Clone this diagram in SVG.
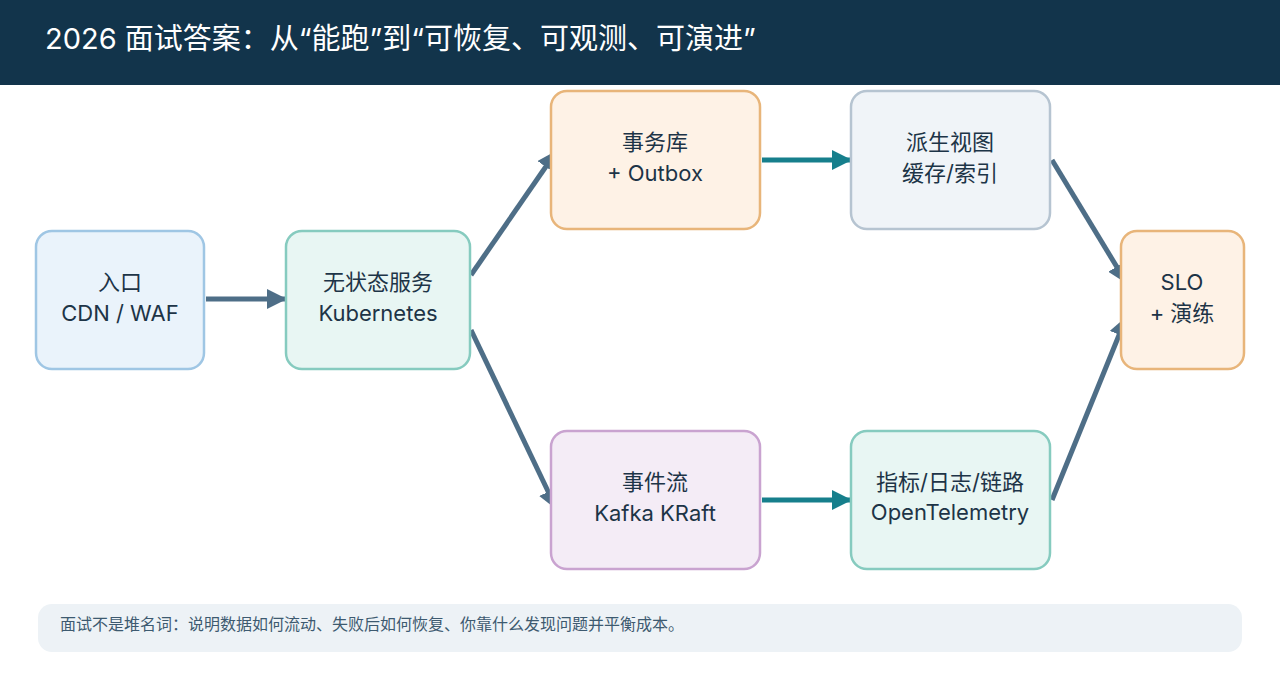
<svg xmlns="http://www.w3.org/2000/svg" width="1280" height="680" viewBox="0 0 1280 680">
<style>
.t{font-family:Inter,"Noto Sans CJK SC",sans-serif;fill:#1d3447;font-size:22px;text-anchor:middle}
.n{stroke-width:2.5}
.c{fill:none;stroke-width:5}
</style>
<defs>
<marker id="ag" viewBox="0 0 10 10" refX="9" refY="5" markerWidth="4" markerHeight="4" orient="auto" markerUnits="strokeWidth"><path d="M0,0L10,5L0,10z" fill="#4e6e87"/></marker>
<marker id="at" viewBox="0 0 10 10" refX="9" refY="5" markerWidth="4" markerHeight="4" orient="auto" markerUnits="strokeWidth"><path d="M0,0L10,5L0,10z" fill="#167f8c"/></marker>
</defs>
<rect width="1280" height="680" fill="#fff"/>
<rect width="1280" height="85" fill="#12344b"/>
<text x="45" y="49" font-family="Inter,Noto Sans CJK SC,sans-serif" font-size="29" fill="#fff">2026 面试答案：从“能跑”到“可恢复、可观测、可演进”</text>
<g id="connectors">
<path class="c" stroke="#4e6e87" d="M206,299L285,299" marker-end="url(#ag)"/>
<path class="c" stroke="#4e6e87" d="M471,275L556,152" marker-end="url(#ag)"/>
<path class="c" stroke="#4e6e87" d="M471,330L556,508" marker-end="url(#ag)"/>
<path class="c" stroke="#167f8c" d="M762,160L850,160" marker-end="url(#at)"/>
<path class="c" stroke="#167f8c" d="M762,500L850,500" marker-end="url(#at)"/>
<path class="c" stroke="#4e6e87" d="M1052,160L1126,282" marker-end="url(#ag)"/>
<path class="c" stroke="#4e6e87" d="M1052,500L1126,318" marker-end="url(#ag)"/>
</g>
<g id="n1"><rect class="n" x="36" y="231" width="168" height="138" rx="16" fill="#eaf3fb" stroke="#9fc6e4"/><text class="t" x="120" y="290">入口</text><text class="t" x="120" y="321">CDN / WAF</text></g>
<g id="n2"><rect class="n" x="286" y="231" width="184" height="138" rx="16" fill="#e8f6f3" stroke="#86cbbf"/><text class="t" x="378" y="290">无状态服务</text><text class="t" x="378" y="321">Kubernetes</text></g>
<g id="n3"><rect class="n" x="551" y="91" width="209" height="138" rx="16" fill="#fef2e6" stroke="#e8b57a"/><text class="t" x="655" y="150">事务库</text><text class="t" x="655" y="181">+ Outbox</text></g>
<g id="n4"><rect class="n" x="851" y="91" width="199" height="138" rx="16" fill="#f0f4f8" stroke="#b6c4d1"/><text class="t" x="950" y="150">派生视图</text><text class="t" x="950" y="181">缓存/索引</text></g>
<g id="n5"><rect class="n" x="1121" y="231" width="123" height="138" rx="16" fill="#fef2e6" stroke="#e8b57a"/><text class="t" x="1182" y="290">SLO</text><text class="t" x="1182" y="321">+ 演练</text></g>
<g id="n6"><rect class="n" x="551" y="431" width="209" height="138" rx="16" fill="#f4ecf6" stroke="#c9a3d0"/><text class="t" x="655" y="490">事件流</text><text class="t" x="655" y="521">Kafka KRaft</text></g>
<g id="n7"><rect class="n" x="851" y="431" width="199" height="138" rx="16" fill="#e8f6f3" stroke="#86cbbf"/><text class="t" x="950" y="490" font-size="20">指标/日志/链路</text><text class="t" x="950" y="520" font-size="20">OpenTelemetry</text></g>
<g id="footer"><rect x="38" y="604" width="1204" height="48" rx="14" fill="#edf2f6"/><text x="60" y="630" font-family="Inter,Noto Sans CJK SC,sans-serif" font-size="16" fill="#3d5a70">面试不是堆名词：说明数据如何流动、失败后如何恢复、你靠什么发现问题并平衡成本。</text></g>
</svg>
